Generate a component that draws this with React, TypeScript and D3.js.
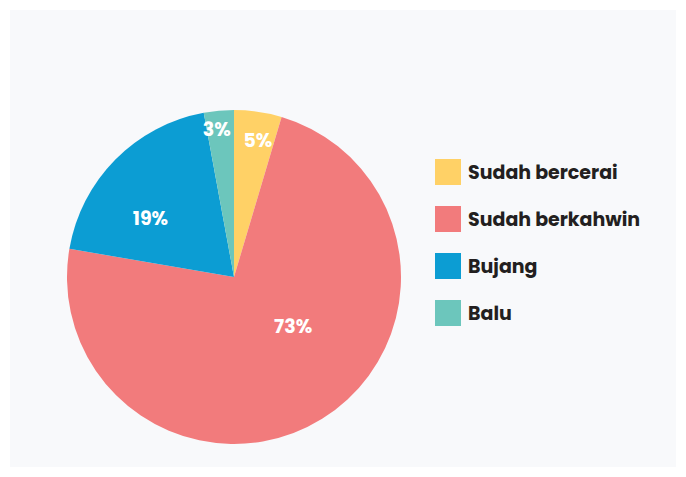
import React from "react";
import * as d3 from "d3";

// marital status share (%)
const categories = ["Sudah bercerai", "Sudah berkahwin", "Bujang", "Balu"];
const values = [4.6, 73.1, 19.4, 2.9];
const colors = ["#FFD166", "#F27B7C", "#0C9DD3", "#6CC6BC"];

// where each % label sits: fraction along the slice angle, fraction of radius
const labelLayout = [
  { t: 0.6, k: 0.83 },
  { t: 0.43, k: 0.46 },
  { t: 0.36, k: 0.61 },
  { t: 0.36, k: 0.89 },
];

const W = 686;
const H = 477;
const cx = 234;
const cy = 277;
const radius = 167;

const App = () => {
  const pie = d3
    .pie<number>()
    .sort(null)
    .value((d) => d);
  const arcs = pie(values);
  const arc = d3.arc<d3.PieArcDatum<number>>().innerRadius(0).outerRadius(radius);

  const legendY = d3
    .scalePoint<string>()
    .domain(categories)
    .range([172, 313]);

  return (
    <svg
      width={W}
      height={H}
      style={{ position: "absolute", left: 0, top: 0 }}
      fontFamily="Poppins, Inter, sans-serif"
    >
      <rect x={0} y={0} width={W} height={H} fill="#ffffff" />
      <rect x={10} y={10} width={W - 20} height={H - 20} fill="#F8F9FB" />
      <g transform={`translate(${cx},${cy})`}>
        {arcs.map((a, i) => (
          <path key={categories[i]} d={arc(a) || ""} fill={colors[i]} />
        ))}
        {arcs.map((a, i) => {
          const { t, k } = labelLayout[i];
          const ang = a.startAngle + (a.endAngle - a.startAngle) * t;
          const x = Math.sin(ang) * radius * k;
          const y = -Math.cos(ang) * radius * k;
          return (
            <text
              key={"l" + i}
              x={x}
              y={y}
              textAnchor="middle"
              dominantBaseline="central"
              fill="#ffffff"
              fontWeight={700}
              fontSize={19}
            >
              {Math.round(values[i])}%
            </text>
          );
        })}
      </g>
      <g>
        {categories.map((c, i) => (
          <g key={c} transform={`translate(435,${legendY(c)})`}>
            <rect x={0} y={-13} width={26} height={26} fill={colors[i]} />
            <text
              x={33}
              y={0}
              dominantBaseline="central"
              fill="#231F20"
              fontWeight={700}
              fontSize={19}
            >
              {c}
            </text>
          </g>
        ))}
      </g>
    </svg>
  );
};

export default App;
